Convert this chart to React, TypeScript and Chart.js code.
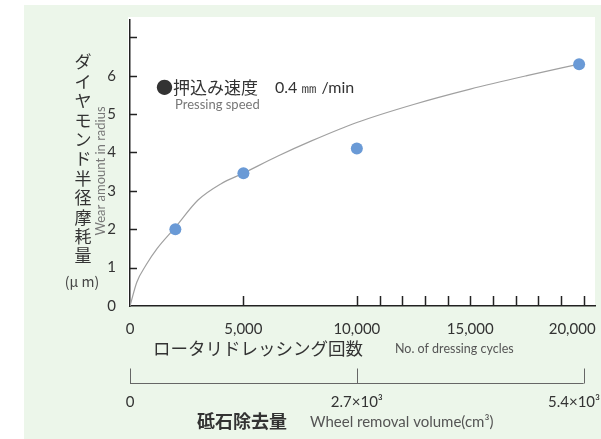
import { useEffect, useRef } from 'react';
import { Chart, registerables } from 'chart.js';

Chart.register(...registerables);

// measured data points: rotary dressing cycles vs. diamond radius wear (µm)
const cycles = [2000, 5000, 10000, 19800];
const wear = [2.0, 3.46, 4.1, 6.3];

// fitted trend curve
const curveCycles = [0, 300, 700, 1200, 2000, 3000, 4000, 5000, 6500, 8000, 10000, 12500, 15000, 17500, 19800];
const curveWear = [0, 0.62, 1.06, 1.5, 2.05, 2.76, 3.18, 3.46, 3.9, 4.3, 4.78, 5.25, 5.65, 6.0, 6.3];

// axis ticks
const xTickValues = [0, 5000, 10000, 11000, 12000, 13000, 14000, 15000, 16000, 17000, 18000, 19000, 20000];
const xLabelValues = [0, 5000, 10000, 15000, 20000];
const yTickValues = [0, 1, 2, 3, 4, 5, 6, 7];
const yLabelValues = [0, 1, 2, 3, 4, 5, 6];
const volumeTickValues = [0, 2700, 5400];
const volumeTickLabels = ['0', '2.7×10³', '5.4×10³     '];

const CJK = '"Noto Sans CJK JP", "Noto Sans CJK SC", sans-serif';
const LAT = 'Lato, "Open Sans", sans-serif';

function txt(ctx: CanvasRenderingContext2D, s: string, x: number, y: number, font: string, color: string, align: CanvasTextAlign = 'left') {
  ctx.save();
  ctx.font = font;
  ctx.fillStyle = color;
  ctx.textAlign = align;
  ctx.textBaseline = 'middle';
  ctx.fillText(s, x, y);
  ctx.restore();
}

const noPad = (s: any) => {
  s.paddingLeft = 0;
  s.paddingRight = 0;
  s.paddingTop = 0;
  s.paddingBottom = 0;
};

const decorPlugin = {
  id: 'decor',
  beforeDraw(chart: any) {
    const { ctx, chartArea: a, width, height } = chart;
    ctx.save();
    ctx.fillStyle = '#ffffff';
    ctx.fillRect(0, 0, width, height);
    ctx.fillStyle = '#ecf6ea';
    ctx.fillRect(24, 5, width - 24, height - 5);
    ctx.fillStyle = '#ffffff';
    ctx.fillRect(a.left - 2, a.top - 3, a.right - a.left + 2, a.bottom - a.top + 3);
    ctx.restore();
  },
  afterDraw(chart: any) {
    const { ctx, chartArea: a } = chart;
    const xs = chart.scales.x;
    const ys = chart.scales.y;
    const x2 = chart.scales.x2;
    ctx.save();
    ctx.strokeStyle = '#222';
    ctx.lineWidth = 1.5;
    // inward ticks on y
    yTickValues.forEach((v) => {
      if (v === 0) return;
      const py = Math.round(ys.getPixelForValue(v)) + 0.5;
      ctx.beginPath();
      ctx.moveTo(a.left, py);
      ctx.lineTo(a.left + 7, py);
      ctx.stroke();
    });
    // inward ticks on x
    xTickValues.forEach((v) => {
      if (v === 0) return;
      const px = Math.round(xs.getPixelForValue(v)) + 0.5;
      ctx.beginPath();
      ctx.moveTo(px, a.bottom);
      ctx.lineTo(px, a.bottom - 10);
      ctx.stroke();
    });
    // secondary (wheel removal volume) bracket axis
    const by = 383.5;
    ctx.strokeStyle = '#666';
    ctx.lineWidth = 1;
    ctx.beginPath();
    ctx.moveTo(x2.getPixelForValue(volumeTickValues[0]), by);
    ctx.lineTo(x2.getPixelForValue(volumeTickValues[volumeTickValues.length - 1]), by);
    ctx.stroke();
    volumeTickValues.forEach((v) => {
      const px = Math.round(x2.getPixelForValue(v)) + 0.5;
      ctx.beginPath();
      ctx.moveTo(px, by);
      ctx.lineTo(px, by - 15);
      ctx.stroke();
    });
    ctx.restore();

    // y title: vertical Japanese
    const yChars = Array.from('ダイヤモンド半径摩耗量');
    yChars.forEach((c, i) => txt(ctx, c, 83, 62 + i * 19.4, `17px ${CJK}`, '#333', 'center'));
    txt(ctx, '(μ m)', 82, 282, `14px ${CJK}`, '#444', 'center');
    ctx.save();
    ctx.translate(101, 171);
    ctx.rotate(-Math.PI / 2);
    txt(ctx, 'Wear amount in radius', 0, 0, `13px ${LAT}`, '#777', 'center');
    ctx.restore();

    // legend note
    txt(ctx, '●押込み速度', 156, 88, `17px ${CJK}`, '#333');
    txt(ctx, '0.4 ㎜ /min', 275, 88, `16px ${LAT}`, '#333');
    txt(ctx, 'Pressing speed', 175, 105, `13px ${LAT}`, '#777');

    // x title
    txt(ctx, 'ロータリドレッシング回数', 153, 348, `17.5px ${CJK}`, '#333');
    txt(ctx, 'No. of dressing cycles', 395, 349, `12.5px ${LAT}`, '#555');

    // secondary title
    txt(ctx, '砥石除去量', 197, 421, `bold 18px ${CJK}`, '#333');
    txt(ctx, 'Wheel removal volume(cm³)', 310, 422, `15px ${LAT}`, '#555');
  },
};

export default function App() {
  const ref = useRef<HTMLCanvasElement | null>(null);
  useEffect(() => {
    if (!ref.current) return;
    const chart = new Chart(ref.current, {
      type: 'scatter',
      data: {
        datasets: [
          {
            type: 'line',
            label: 'trend',
            data: curveCycles.map((x, i) => ({ x, y: curveWear[i] })),
            borderColor: '#a0a0a0',
            borderWidth: 1.2,
            pointRadius: 0,
            fill: false,
            cubicInterpolationMode: 'monotone',
            order: 2,
          } as any,
          {
            type: 'scatter',
            label: 'measured',
            data: cycles.map((x, i) => ({ x, y: wear[i] })),
            backgroundColor: '#6a9ad6',
            borderColor: '#6a9ad6',
            borderWidth: 0,
            pointRadius: 6,
            order: 1,
          },
        ],
      },
      options: {
        animation: false,
        responsive: false,
        devicePixelRatio: 1,
        layout: { padding: { left: 0, top: 20, right: 6, bottom: 0 } },
        plugins: { legend: { display: false }, tooltip: { enabled: false } },
        scales: {
          x: {
            type: 'linear',
            position: 'bottom',
            min: 0,
            max: 20500,
            afterBuildTicks: (s: any) => { s.ticks = xTickValues.map((value) => ({ value })); },
            afterFit: (s: any) => { s.height = 56; noPad(s); },
            grid: { display: false },
            border: { display: true, color: '#222', width: 1.5 },
            ticks: {
              autoSkip: false,
              maxRotation: 0,
              padding: 6,
              color: '#333',
              font: { family: LAT, size: 15 },
              callback: (v: any) => {
                const n = Number(v);
                if (!xLabelValues.includes(n)) return '';
                const s = n.toLocaleString('en-US');
                return n === xLabelValues[xLabelValues.length - 1] ? s + '      ' : s;
              },
            },
          },
          x2: {
            type: 'linear',
            position: 'bottom',
            min: 0,
            max: 5535,
            afterBuildTicks: (s: any) => { s.ticks = volumeTickValues.map((value) => ({ value })); },
            afterFit: (s: any) => { s.height = 77; noPad(s); },
            grid: { display: false },
            border: { display: false },
            ticks: {
              autoSkip: false,
              maxRotation: 0,
              padding: 23,
              color: '#333',
              font: { family: LAT, size: 15 },
              callback: (v: any) => volumeTickLabels[volumeTickValues.indexOf(Number(v))] ?? '',
            },
          },
          y: {
            type: 'linear',
            min: 0,
            max: 7.45,
            afterBuildTicks: (s: any) => { s.ticks = yTickValues.map((value) => ({ value })); },
            afterFit: (s: any) => { s.width = 130; noPad(s); },
            grid: { display: false },
            border: { display: true, color: '#222', width: 1.5 },
            ticks: {
              padding: 6,
              color: '#333',
              font: { family: LAT, size: 15 },
              callback: (v: any) => (yLabelValues.includes(Number(v)) ? String(v) : ''),
            },
          },
        },
      },
      plugins: [decorPlugin],
    });
    return () => chart.destroy();
  }, []);
  return (
    <div style={{ position: 'absolute', left: 0, top: 0, width: 601, height: 439 }}>
      <canvas ref={ref} width={601} height={439} style={{ width: 601, height: 439, display: 'block' }} />
    </div>
  );
}
